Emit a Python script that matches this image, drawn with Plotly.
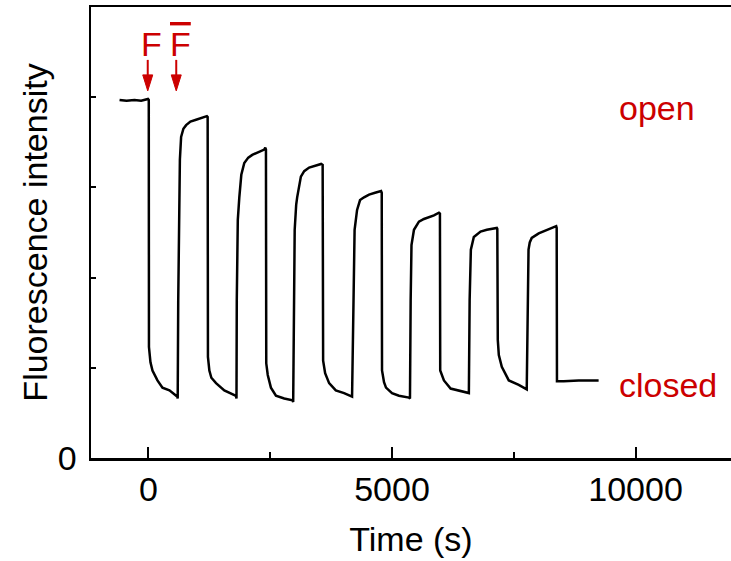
import plotly.graph_objects as go

# ---- data ----
time_s = [-594, -450, -287, -150, -10,
          6, 10, 41, 82, 184, 287, 430, 594, 600,
          611, 625, 645, 670, 717, 773, 861, 977, 1086, 1199,
          1215, 1221, 1250, 1291, 1387, 1557, 1797, 1807,
          1813, 1834, 1865, 1906, 1967, 2049, 2131, 2254, 2377, 2398,
          2412, 2418, 2449, 2514, 2617, 2787, 2957, 2971,
          2984, 3002, 3033, 3053, 3129, 3197, 3299, 3422, 3545,
          3576, 3586, 3627, 3709, 3846, 4016, 4180,
          4211, 4232, 4283, 4344, 4426, 4529, 4652, 4775,
          4789, 4795, 4836, 4877, 5000, 5143, 5348, 5369,
          5383, 5400, 5451, 5553, 5656, 5758, 5861, 5963,
          5984, 5990, 6025, 6066, 6203, 6332, 6510, 6578,
          6594, 6619, 6680, 6818, 6947, 7152,
          7162, 7172, 7193, 7254, 7398, 7602, 7766,
          7787, 7803, 7828, 7869, 8012, 8176, 8320, 8371,
          8381, 8387, 8525, 8832, 9242]
intensity = [3.97, 3.96, 3.97, 3.96, 3.98,
             3.97, 1.23, 1.06, 0.97, 0.86, 0.78, 0.75, 0.68, 0.66,
             1.75, 2.86, 3.31, 3.56, 3.65, 3.69, 3.73, 3.75, 3.77, 3.79,
             3.78, 1.12, 0.97, 0.89, 0.83, 0.75, 0.69, 0.66,
             1.75, 2.64, 2.89, 3.14, 3.27, 3.33, 3.36, 3.39, 3.42, 3.44,
             3.42, 1.05, 0.92, 0.78, 0.69, 0.66, 0.64, 0.62,
             1.75, 2.53, 2.81, 2.89, 3.12, 3.18, 3.22, 3.24, 3.26,
             3.25, 1.08, 0.94, 0.83, 0.75, 0.72, 0.68,
             1.75, 2.53, 2.75, 2.86, 2.89, 2.92, 2.94, 2.96,
             2.94, 0.97, 0.84, 0.78, 0.72, 0.69, 0.67, 0.66,
             1.75, 2.36, 2.53, 2.62, 2.65, 2.67, 2.69, 2.72,
             2.71, 0.97, 0.91, 0.86, 0.77, 0.75, 0.73, 0.72,
             1.75, 2.31, 2.45, 2.51, 2.53, 2.55,
             2.54, 1.31, 1.14, 1.01, 0.86, 0.81, 0.76,
             1.75, 2.31, 2.39, 2.44, 2.49, 2.53, 2.56, 2.57,
             2.55, 0.85, 0.85, 0.86, 0.86]

x_tick_vals = [0, 5000, 10000]
x_tick_text = ["0", "5000", "10000"]
y_tick_vals = [0, 1, 2, 3, 4]
y_tick_text = ["0", "", "", "", ""]

arrow_times = [-15, 570]          # addition of F and F-bar
arrow_labels = ["F", '<span style="text-decoration:overline">F</span>']
arrow_tip_value = 4.07
state_labels = ["open", "closed"]
state_values = [3.88, 0.81]
state_time = 9620

RED = "#cc0000"
FONT = "Liberation Sans, Arial, sans-serif"
FS = 34

fig = go.Figure()
fig.add_trace(go.Scatter(x=time_s, y=intensity, mode="lines",
                         line=dict(color="black", width=2.5), showlegend=False,
                         hoverinfo="skip"))

shapes = []
annotations = []
for t, lab in zip(arrow_times, arrow_labels):
    shapes.append(dict(type="path", xref="x", yref="y",
                       xsizemode="pixel", ysizemode="pixel",
                       xanchor=t, yanchor=arrow_tip_value,
                       path="M-5,16 L5,16 L0,0 Z",
                       fillcolor=RED, line=dict(color=RED, width=1)))
    shapes.append(dict(type="line", xref="x", yref="y",
                       xsizemode="pixel", ysizemode="pixel",
                       xanchor=t, yanchor=arrow_tip_value,
                       x0=0, x1=0, y0=15, y1=31,
                       line=dict(color=RED, width=2)))
    annotations.append(dict(x=t, y=arrow_tip_value, xref="x", yref="y",
                            text=lab, showarrow=False, xanchor="center",
                            yanchor="bottom", xshift=4, yshift=26,
                            font=dict(family=FONT, size=FS, color=RED)))

for lab, v in zip(state_labels, state_values):
    annotations.append(dict(x=state_time, y=v, xref="x", yref="y",
                            text=lab, showarrow=False, xanchor="left",
                            yanchor="middle",
                            font=dict(family=FONT, size=FS, color=RED)))

fig.update_layout(
    width=731, height=561,
    margin=dict(l=91, r=0, t=7, b=103, autoexpand=False),
    paper_bgcolor="white", plot_bgcolor="white",
    font=dict(family=FONT, size=FS, color="black"),
    shapes=shapes, annotations=annotations,
    xaxis=dict(range=[-1180, 11960], showgrid=False, zeroline=False,
               automargin=False,
               showline=True, linecolor="black", linewidth=2.5, mirror=True,
               ticks="inside", ticklen=11, tickwidth=2, tickcolor="black",
               tickvals=x_tick_vals, ticktext=x_tick_text,
               ticklabelstandoff=0,
               minor=dict(ticks="inside", ticklen=6, tickwidth=2,
                          tickcolor="black", dtick=2500, tick0=0),
               title=dict(text="Time (s)", standoff=20,
                          font=dict(family=FONT, size=FS))),
    yaxis=dict(range=[0, 5], showgrid=False, zeroline=False,
               automargin=False,
               showline=True, linecolor="black", linewidth=2.5,
               ticks="inside", ticklen=5, tickwidth=2, tickcolor="black",
               tickvals=y_tick_vals, ticktext=y_tick_text,
               ticklabelstandoff=5,
               title=dict(text="Fluorescence intensity", standoff=0,
                          font=dict(family=FONT, size=FS))),
)

fig.write_html("out.html",
               config={"displayModeBar": False, "staticPlot": True},
               post_script="document.body.style.margin='0';"
                           "document.body.style.overflow='hidden';")
